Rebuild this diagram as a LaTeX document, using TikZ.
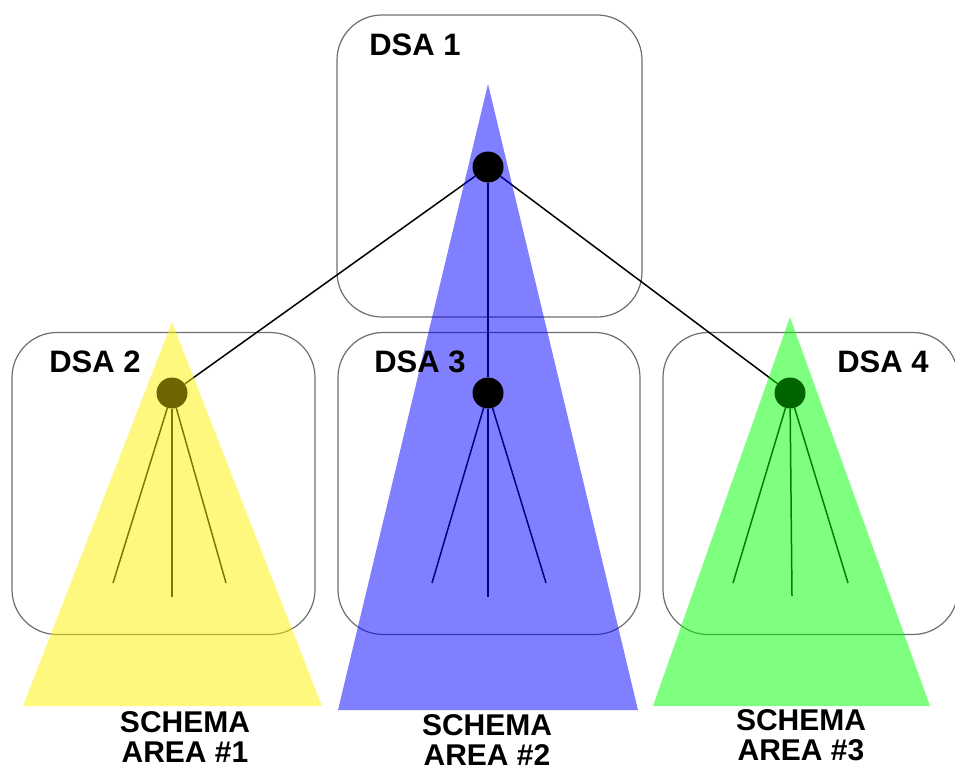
\documentclass[tikz,border=0pt]{standalone}
\usepackage{fontspec}
\setmainfont{Liberation Sans}
\pgfdeclarelayer{front}
\pgfsetlayers{main,front}
\definecolor{dsagray}{RGB}{110,110,110}
\definecolor{olivedot}{RGB}{110,100,0}
\definecolor{greendot}{RGB}{0,100,0}
\begin{document}
\begin{tikzpicture}[x=1pt, y=-1pt,
  dsabox/.style={draw=dsagray, line width=1.2pt, rounded corners=45pt, inner sep=0pt, minimum height=302pt},
  dsalabel/.style={font=\fontsize{31}{31}\selectfont\bfseries},
  areatext/.style={font=\fontsize{30}{30}\selectfont\bfseries, align=center, inner sep=0pt},
  dsadot/.style={circle, inner sep=0pt, minimum size=31pt},
  leafline/.style={line width=1.5pt}] % {{{
\useasboundingbox (0,0) rectangle (955,773);
% Cajas   {{{
\node[dsabox, minimum width=305pt] (dsa1) at (489.5,166) {};
\node[dsabox, minimum width=303pt] (dsa2) at (163.5,483.5) {};
\node[dsabox, minimum width=302pt] (dsa3) at (489,483.5) {};
\node[dsabox, minimum width=295pt] (dsa4) at (810.5,483.5) {};
% }}}
\begin{pgfonlayer}{front} % Nodos {{{
\node[dsadot, fill=black] (root) at (488,167) {};
\node[dsadot, fill=olivedot] (leafa) at (172,393) {};
\node[dsadot, fill=black] (leafb) at (488,393) {};
\node[dsadot, fill=greendot] (leafc) at (790,393) {};
\end{pgfonlayer} % }}}
\draw[leafline] (root) -- (leafa);
\draw[leafline] (root) -- (leafb);
\draw[leafline] (root) -- (leafc);
\begin{scope}[shift={(172,393)}] % Area 1 {{{
\coordinate (a1) at (-59,190); \coordinate (a2) at (0,204); \coordinate (a3) at (54,190);
\draw[leafline] (leafa) -- (a1);
\draw[leafline] (leafa) -- (a2);
\draw[leafline] (leafa) -- (a3);
\end{scope} % }}}
\begin{scope}[shift={(488,393)}] % Area 2 {{{
\coordinate (b1) at (-56,190); \coordinate (b2) at (0,204); \coordinate (b3) at (58,190);
\draw[leafline] (leafb) -- (b1);
\draw[leafline] (leafb) -- (b2);
\draw[leafline] (leafb) -- (b3);
\end{scope} % }}}
\begin{scope}[shift={(790,393)}] % Area 3 {{{
\coordinate (c1) at (-57,190); \coordinate (c2) at (2,203); \coordinate (c3) at (58,190);
\draw[leafline] (leafc) -- (c1);
\draw[leafline] (leafc) -- (c2);
\draw[leafline] (leafc) -- (c3);
\end{scope} % }}}
% Triangulos   {{{
\fill[yellow, fill opacity=0.5] (172,322) -- (23,706) -- (322,706) -- cycle;
\fill[blue, fill opacity=0.5] (488,84) -- (338,710) -- (638,710) -- cycle;
\fill[green, fill opacity=0.5] (790,317) -- (653,706) -- (930,706) -- cycle;
% }}}
% Textos   {{{
\node[dsalabel] (lbl1) at (415,45) {DSA 1};
\node[dsalabel] (lbl2) at (95,362) {DSA 2};
\node[dsalabel] (lbl3) at (420,362) {DSA 3};
\node[dsalabel] (lbl4) at (883,362) {DSA 4};
\node[areatext] (area1) at (185,737) {SCHEMA\\AREA \#1};
\node[areatext] (area2) at (487,740) {SCHEMA\\AREA \#2};
\node[areatext] (area3) at (801,735) {SCHEMA\\AREA \#3};
% }}}
\end{tikzpicture} % }}}
\end{document}
